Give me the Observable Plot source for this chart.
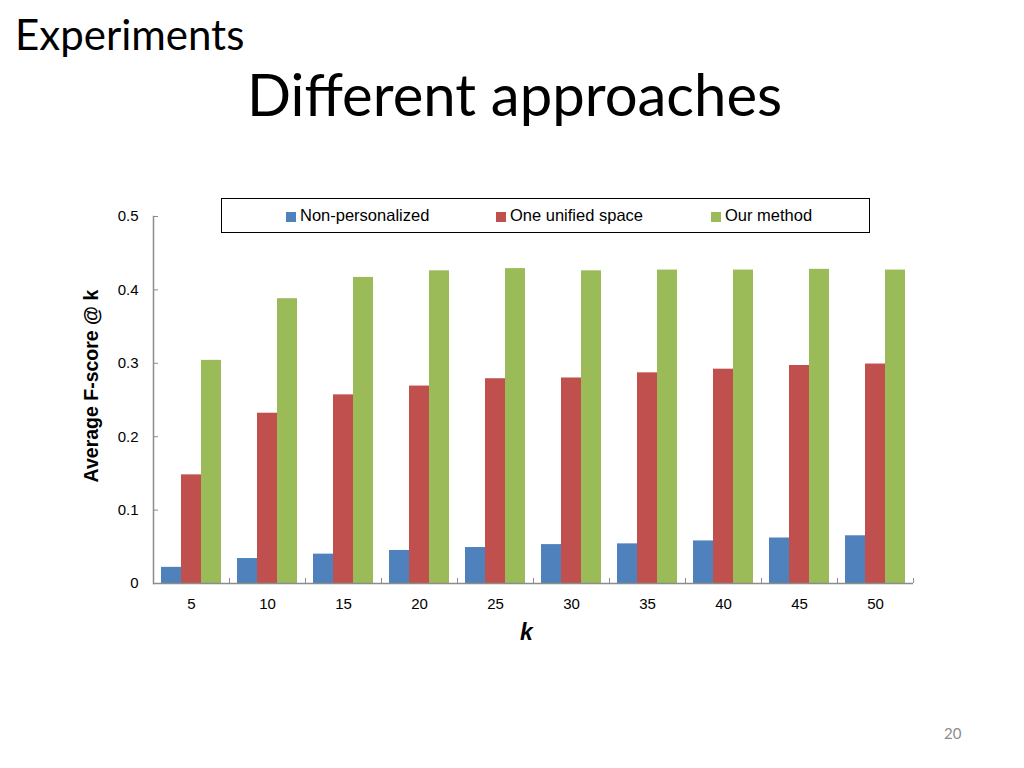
<!DOCTYPE html>
<html>
<head>
<meta charset="utf-8">
<script src="https://cdn.jsdelivr.net/npm/d3@7"></script>
<script src="https://cdn.jsdelivr.net/npm/@observablehq/plot@0.6"></script>
<style>
  html, body { margin: 0; padding: 0; background: #fff; overflow: hidden; }
  #page { position: relative; width: 1024px; height: 768px; font-family: "Liberation Sans", Arial, sans-serif; }
  #kicker { position: absolute; left: 15px; top: 13px; font-family: Lato, "Open Sans", sans-serif; font-size: 42px; line-height: 42px; color: #000; margin: 0; font-weight: normal; }
  #title { position: absolute; left: 247px; top: 64px; font-family: Lato, "Open Sans", sans-serif; font-size: 58px; line-height: 60px; color: #000; margin: 0; font-weight: normal; }
  #chart { position: absolute; left: 0; top: 180px; }
  #legend { position: absolute; left: 221px; top: 198px; width: 647px; height: 33px; border: 1px solid #000; background: #fff; }
  .item { position: absolute; top: 0; height: 33px; line-height: 33px; font-size: 16.5px; color: #000; white-space: nowrap; }
  .sw { display: inline-block; width: 10px; height: 10px; margin-right: 4px; vertical-align: -1px; }
  #pagenum { position: absolute; left: 944px; top: 724px; font-family: Lato, sans-serif; font-size: 15px; color: #8c8c8c; }
</style>
</head>
<body>
<div id="page">
  <div id="kicker">Experiments</div>
  <div id="title">Different approaches</div>
  <div id="chart"></div>
  <div id="legend"></div>
  <div id="pagenum">20</div>
</div>
<script>
// ---- data ----
const ks = [5, 10, 15, 20, 25, 30, 35, 40, 45, 50];
const seriesNames = ["Non-personalized", "One unified space", "Our method"];
const nonPersonalized = [0.022, 0.034, 0.040, 0.045, 0.049, 0.053, 0.054, 0.058, 0.062, 0.065];
const oneUnifiedSpace = [0.148, 0.232, 0.257, 0.269, 0.279, 0.280, 0.287, 0.292, 0.297, 0.299];
const ourMethod = [0.304, 0.388, 0.417, 0.426, 0.429, 0.426, 0.427, 0.427, 0.428, 0.427];
const seriesColors = ["#4F81BD", "#C0504D", "#9BBB59"];
const yTicks = [0, 0.1, 0.2, 0.3, 0.4, 0.5];
const yLabel = "Average F-score @ k";
const xLabel = "k";

const seriesValues = [nonPersonalized, oneUnifiedSpace, ourMethod];
const rows = [];
ks.forEach((k, i) => {
  seriesNames.forEach((s, j) => rows.push({k, series: s, value: seriesValues[j][i]}));
});

const gray = "#8c8c8c";
const W = 1024, H = 480;
const mLeft = 152, mRight = 111;
const step = (W - mLeft - mRight) / ks.length;

const chart = Plot.plot({
  width: W,
  height: H,
  marginLeft: mLeft,
  marginRight: mRight,
  marginTop: 36,
  marginBottom: 77,
  style: {fontFamily: '"Liberation Sans", Arial, sans-serif', fontSize: "15px", color: "#000", background: "#fff"},
  fx: {domain: ks, padding: 0},
  x: {domain: seriesNames, paddingInner: 0, paddingOuter: 0.4, axis: null},
  y: {domain: [0, 0.5]},
  color: {domain: seriesNames, range: seriesColors},
  marks: [
    Plot.barY(rows, {fx: "k", x: "series", y: "value", fill: "series", inset: 0}),
    Plot.ruleY([0], {stroke: gray, strokeWidth: 1.5}),
    Plot.frame({anchor: "left", facetAnchor: "left", stroke: gray, strokeWidth: 1.5}),
    Plot.axisY(yTicks, {anchor: "left", tickSize: -5, tickPadding: 20, tickFormat: d => String(d), stroke: gray, fill: "#000", fontSize: 15, label: null}),
    Plot.text([yLabel], {text: d => d, frameAnchor: "left", facetAnchor: "left", rotate: -90, dx: -62, dy: -14, fontSize: 19.5, fontWeight: "bold", textAnchor: "middle"}),
    Plot.axisFx({anchor: "bottom", tickSize: -5, dx: step / 2, stroke: gray, fill: "none", label: null}),
    Plot.axisFx({anchor: "bottom", tickSize: 0, tickPadding: 15, fontSize: 15, label: null}),
    Plot.text([xLabel], {fx: () => ks[5], text: d => d, frameAnchor: "bottom-left", dx: -7, dy: 56, fontSize: 23, fontWeight: "bold", fontStyle: "italic", textAnchor: "middle"})
  ]
});
document.getElementById("chart").appendChild(chart);

// legend
const legend = document.getElementById("legend");
const offsets = [64, 274, 489];
seriesNames.forEach((s, i) => {
  const it = document.createElement("div");
  it.className = "item";
  it.style.left = offsets[i] + "px";
  const sw = document.createElement("span");
  sw.className = "sw";
  sw.style.background = seriesColors[i];
  it.appendChild(sw);
  it.appendChild(document.createTextNode(s));
  legend.appendChild(it);
});
</script>
</body>
</html>
